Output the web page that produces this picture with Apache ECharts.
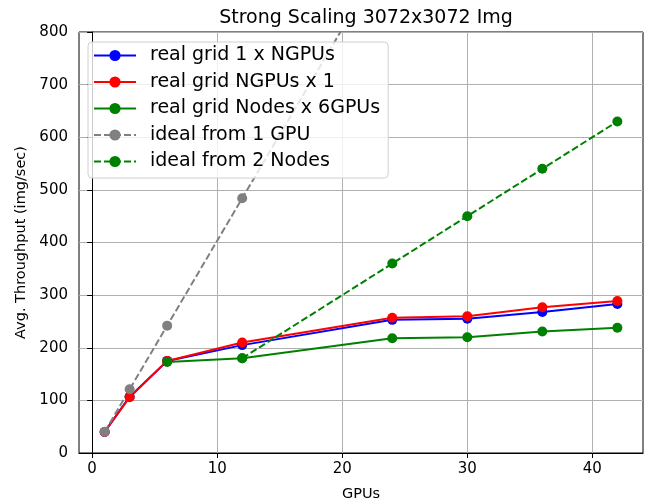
<!DOCTYPE html>
<html>
<head>
<meta charset="utf-8">
<script src="https://cdn.jsdelivr.net/npm/echarts@6/dist/echarts.min.js"></script>
<style>
  html, body { margin: 0; padding: 0; background: #fff; }
  #chart { width: 649px; height: 502px; }
</style>
</head>
<body>
<div id="chart"></div>
<script>
// GPU counts on the x axis
var gpus = [1, 3, 6, 12, 24, 30, 36, 42];
var realOneByN = [40, 107, 175, 205, 253, 255, 268, 283];
var realNByOne = [40, 106, 175, 210, 257, 260, 277, 289];
var nodeGpus = [6, 12, 24, 30, 36, 42];
var realNodes = [173, 180, 218, 220, 231, 238];
var idealOneGpu = [40.3, 121, 242, 484, 967, 1209, 1451, 1693];
var idealNodeGpus = [12, 24, 30, 36, 42];
var idealTwoNodes = [180, 360, 450, 540, 630];
var xTicks = [0, 10, 20, 30, 40];
var yTicks = [0, 100, 200, 300, 400, 500, 600, 700, 800];

function pairs(xs, ys) {
  return xs.map(function (x, i) { return [x, ys[i]]; });
}

function lineSeries(name, color, data, dashed) {
  return {
    name: name,
    type: 'line',
    data: data,
    symbol: 'circle',
    symbolSize: 10,
    clip: true,
    itemStyle: { color: color },
    lineStyle: { color: color, width: 2, type: dashed ? [7, 3] : 'solid' },
    emphasis: { disabled: true },
    animation: false
  };
}

var font = 'DejaVu Sans';
var chart = echarts.init(document.getElementById('chart'));
chart.setOption({
  title: {
    text: 'Strong Scaling 3072x3072 Img',
    left: 361, top: 4, textAlign: 'center',
    textStyle: { fontFamily: font, fontSize: 19, fontWeight: 'normal', color: '#000' }
  },
  grid: {
    left: 79, right: 6, top: 32, bottom: 49,
    outerBoundsMode: 'none',
    show: true, borderColor: '#000', borderWidth: 1
  },
  legend: {
    left: 88, top: 42, orient: 'vertical',
    itemWidth: 42, itemHeight: 14, itemGap: 7.5,
    padding: [4, 8, 7, 5],
    backgroundColor: 'rgba(255,255,255,0.8)',
    borderColor: '#d0d0d0', borderWidth: 1, borderRadius: 4,
    textStyle: { fontFamily: font, fontSize: 19, lineHeight: 19, color: '#000', padding: [0, 0, 0, 9] },
    data: ['real grid 1 x NGPUs', 'real grid NGPUs x 1', 'real grid Nodes x 6GPUs', 'ideal from 1 GPU', 'ideal from 2 Nodes']
  },
  xAxis: {
    type: 'value', min: -1.05, max: 44.05,
    name: 'GPUs', nameLocation: 'middle', nameGap: 34,
    nameTextStyle: { fontFamily: font, fontSize: 14.5, color: '#000' },
    axisLine: { show: true, onZero: false, lineStyle: { color: '#000' } },
    axisTick: { show: true, length: 5, customValues: xTicks, lineStyle: { color: '#000' } },
    axisLabel: { fontFamily: font, fontSize: 15, color: '#000', margin: 9, customValues: xTicks },
    splitLine: { show: true, lineStyle: { color: '#b0b0b0', width: 1 } }
  },
  yAxis: {
    type: 'value', min: 0, max: 800, interval: 100,
    name: 'Avg. Throughput (img/sec)', nameLocation: 'middle', nameGap: 50,
    nameTextStyle: { fontFamily: font, fontSize: 14.5, color: '#000' },
    axisLine: { show: true, lineStyle: { color: '#000' } },
    axisTick: { show: true, length: 5, lineStyle: { color: '#000' } },
    axisLabel: { fontFamily: font, fontSize: 15, color: '#000', margin: 11 },
    splitLine: { show: true, lineStyle: { color: '#b0b0b0', width: 1 } }
  },
  series: [
    lineSeries('real grid 1 x NGPUs', '#0000ff', pairs(gpus, realOneByN), false),
    lineSeries('real grid NGPUs x 1', '#ff0000', pairs(gpus, realNByOne), false),
    lineSeries('real grid Nodes x 6GPUs', '#008000', pairs(nodeGpus, realNodes), false),
    lineSeries('ideal from 1 GPU', '#808080', pairs(gpus, idealOneGpu), true),
    lineSeries('ideal from 2 Nodes', '#008000', pairs(idealNodeGpus, idealTwoNodes), true)
  ]
});
</script>
</body>
</html>
